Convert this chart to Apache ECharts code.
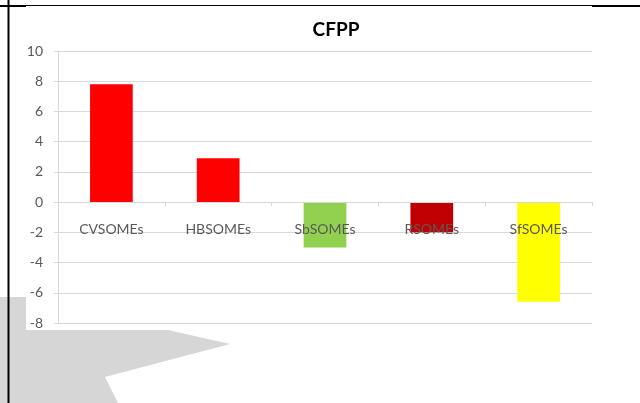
<!DOCTYPE html>
<html>
<head>
<meta charset="utf-8">
<script src="https://cdn.jsdelivr.net/npm/echarts@6/dist/echarts.min.js"></script>
<style>
  html, body { margin: 0; padding: 0; background: #fff; }
  #chart { width: 640px; height: 403px; }
</style>
</head>
<body>
<div id="chart"></div>
<script>
// values
var categories = ['CVSOMEs', 'HBSOMEs', 'SbSOMEs', 'RSOMEs', 'SfSOMEs'];
var values = [7.8, 2.9, -3.0, -2.0, -6.6];
var yTicks = [-8, -6, -4, -2, 0, 2, 4, 6, 8, 10];

var barColors = ['#ff0000', '#ff0000', '#92d050', '#c00000', '#ffff00'];
var font = 'Lato, "Open Sans", sans-serif';

var gridTop = 51, gridBottom = 80, chartH = 403;
var yMin = yTicks[0], yMax = yTicks[yTicks.length - 1];
// lift the category axis up to the zero line (labels sit just below it)
var plotH = chartH - gridTop - gridBottom;
var zeroOffset = -plotH * (0 - yMin) / (yMax - yMin);

var myChart = echarts.init(document.getElementById('chart'));
var option = {
    backgroundColor: '#fff',
    animation: false,
    title: {
        text: 'CFPP',
        left: 331,
        top: 15,
        textAlign: 'center',
        textStyle: { fontFamily: font, fontSize: 19, fontWeight: 'bold', color: '#000' }
    },
    grid: { left: 58, right: 48, top: gridTop, bottom: gridBottom },
    xAxis: {
        type: 'category',
        data: categories,
        position: 'bottom',
        offset: zeroOffset,
        axisLine: { onZero: false, lineStyle: { color: '#d9d9d9', width: 1 } },
        axisTick: { show: true, length: 4, lineStyle: { color: '#d9d9d9' } },
        axisLabel: { margin: 20, fontFamily: font, fontSize: 14, color: '#595959' },
        z: 3
    },
    yAxis: {
        type: 'value',
        min: yMin,
        max: yMax,
        interval: 2,
        axisLine: { show: true, lineStyle: { color: '#d9d9d9' } },
        axisTick: { show: true, length: 4, lineStyle: { color: '#d9d9d9' } },
        axisLabel: { margin: 15, fontFamily: font, fontSize: 14, color: '#595959' },
        splitLine: { lineStyle: { color: '#d9d9d9', width: 1 } }
    },
    series: [{
        type: 'bar',
        barWidth: '40%',
        data: values.map(function (v, i) {
            return { value: v, itemStyle: { color: barColors[i] } };
        }),
        z: 2
    }],
    graphic: [
        {
            type: 'polygon', silent: true, z: -1,
            shape: { points: [[0, 297], [26, 297], [26, 330], [168, 330], [230, 344], [105, 377], [118, 403], [0, 403]] },
            style: { fill: '#d6d6d6' }
        },
        { type: 'line', silent: true, shape: { x1: 8.5, y1: 0, x2: 8.5, y2: 403 }, style: { stroke: '#000', lineWidth: 2 } },
        { type: 'line', silent: true, shape: { x1: 0, y1: 6, x2: 26, y2: 6 }, style: { stroke: '#000', lineWidth: 2 } },
        { type: 'line', silent: true, shape: { x1: 26, y1: 5.5, x2: 592, y2: 5.5 }, style: { stroke: '#000', lineWidth: 1 } },
        { type: 'line', silent: true, shape: { x1: 592, y1: 6, x2: 640, y2: 6 }, style: { stroke: '#000', lineWidth: 2 } }
    ]
};
myChart.setOption(option);
</script>
</body>
</html>
